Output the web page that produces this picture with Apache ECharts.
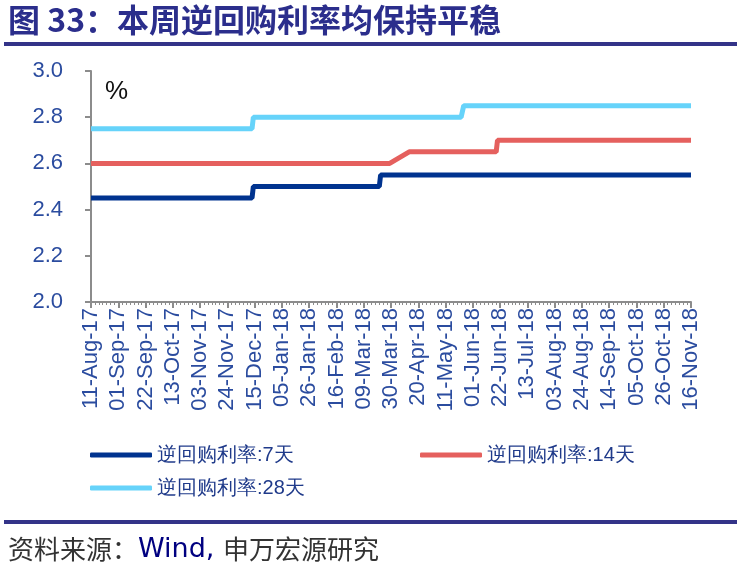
<!DOCTYPE html>
<html>
<head>
<meta charset="utf-8">
<script src="https://cdn.jsdelivr.net/npm/echarts@6/dist/echarts.min.js"></script>
<style>
  html, body { margin: 0; padding: 0; background: #fff; }
  #chart { width: 741px; height: 574px; }
</style>
</head>
<body>
<div id="chart"></div>
<script>
// x轴刻度标签 (每3周)
var startDate = '2017-08-11';
var tickLabels = ['11-Aug-17', '01-Sep-17', '22-Sep-17', '13-Oct-17', '03-Nov-17', '24-Nov-17',
    '15-Dec-17', '05-Jan-18', '26-Jan-18', '16-Feb-18', '09-Mar-18', '30-Mar-18', '20-Apr-18',
    '11-May-18', '01-Jun-18', '22-Jun-18', '13-Jul-18', '03-Aug-18', '24-Aug-18', '14-Sep-18',
    '05-Oct-18', '26-Oct-18', '16-Nov-18'];
var yLabels = ['2.0', '2.2', '2.4', '2.6', '2.8', '3.0'];

var seriesNames = ['逆回购利率:7天', '逆回购利率:14天', '逆回购利率:28天'];

// 逆回购利率:7天
var rate7Dates = ['2017-08-11', '2017-12-13', '2017-12-14', '2018-03-21', '2018-03-22', '2018-11-16'];
var rate7Values = [2.45, 2.45, 2.50, 2.50, 2.55, 2.55];
// 逆回购利率:14天
var rate14Dates = ['2017-08-11', '2018-03-29', '2018-04-13', '2018-06-19', '2018-06-20', '2018-11-16'];
var rate14Values = [2.60, 2.60, 2.65, 2.65, 2.70, 2.70];
// 逆回购利率:28天
var rate28Dates = ['2017-08-11', '2017-12-13', '2017-12-14', '2018-05-23', '2018-05-25', '2018-11-16'];
var rate28Values = [2.75, 2.75, 2.80, 2.80, 2.85, 2.85];

function dayOffset(s) {
    return (Date.parse(s) - Date.parse(startDate)) / 86400000;
}
function toPoints(dates, values) {
    return dates.map(function (d, i) { return [dayOffset(d), values[i]]; });
}

var axisGray = '#8c8c8c';
var labelBlue = '#2b4c9f';
var colors = ['#00338f', '#e5605e', '#66d3fa'];

var myChart = echarts.init(document.getElementById('chart'));
var option = {
    animation: false,
    backgroundColor: '#fff',
    color: colors,
    grid: { left: 91, right: 50, top: 71, bottom: 272 },
    xAxis: {
        type: 'value',
        min: 0,
        max: (tickLabels.length - 1) * 21,
        interval: 21,
        axisLine: { show: true, lineStyle: { color: axisGray, width: 2 } },
        axisTick: { show: true, length: 6, lineStyle: { color: axisGray, width: 2 } },
        minorTick: { show: true, splitNumber: 7, length: 3, lineStyle: { color: axisGray, width: 1 } },
        splitLine: { show: false },
        axisLabel: {
            rotate: 90,
            margin: 6,
            fontFamily: 'Liberation Sans',
            fontSize: 22,
            color: labelBlue,
            formatter: function (v) { return tickLabels[Math.round(v / 21)] || ''; }
        }
    },
    yAxis: {
        type: 'value',
        min: 2,
        max: 3,
        interval: 0.2,
        axisLine: { show: true, lineStyle: { color: axisGray, width: 2 } },
        axisTick: { show: true, length: 6, lineStyle: { color: axisGray, width: 2 } },
        splitLine: { show: false },
        axisLabel: {
            margin: 28,
            fontFamily: 'Liberation Sans',
            fontSize: 22,
            color: labelBlue,
            formatter: function (v) { return yLabels[Math.round((v - 2) / 0.2)]; }
        }
    },
    legend: [{
        data: [seriesNames[0], seriesNames[2]],
        orient: 'vertical',
        left: 90,
        top: 445,
        padding: 0,
        icon: 'roundRect',
        itemWidth: 62,
        itemHeight: 5,
        itemGap: 13,
        textStyle: { fontFamily: 'Liberation Sans', fontSize: 20, color: '#1f3a8a' }
    }, {
        data: [seriesNames[1]],
        orient: 'vertical',
        left: 420,
        top: 445,
        padding: 0,
        icon: 'roundRect',
        itemWidth: 62,
        itemHeight: 5,
        textStyle: { fontFamily: 'Liberation Sans', fontSize: 20, color: '#1f3a8a' }
    }],
    series: [{
        name: seriesNames[0],
        type: 'line',
        symbol: 'none',
        data: toPoints(rate7Dates, rate7Values),
        lineStyle: { width: 5, color: colors[0] }
    }, {
        name: seriesNames[1],
        type: 'line',
        symbol: 'none',
        data: toPoints(rate14Dates, rate14Values),
        lineStyle: { width: 5, color: colors[1] }
    }, {
        name: seriesNames[2],
        type: 'line',
        symbol: 'none',
        data: toPoints(rate28Dates, rate28Values),
        lineStyle: { width: 5, color: colors[2] }
    }],
    graphic: [{
        type: 'text',
        left: 8,
        top: 4,
        style: {
            text: '图 33：本周逆回购利率均保持平稳',
            fontFamily: 'Noto Sans CJK SC',
            fontWeight: 'bold',
            fontSize: 32,
            fill: '#2b2e8c'
        }
    }, {
        type: 'rect',
        shape: { x: 4, y: 42, width: 733, height: 4 },
        style: { fill: '#333388' }
    }, {
        type: 'text',
        left: 105,
        top: 79,
        style: { text: '%', fontFamily: 'Liberation Sans', fontSize: 26, fill: '#111' }
    }, {
        type: 'rect',
        shape: { x: 4, y: 520, width: 733, height: 4 },
        style: { fill: '#333388' }
    }, {
        type: 'text',
        left: 8,
        top: 536,
        style: {
            text: '{a|资料来源：}{b|Wind, }{a|申万宏源研究}',
            rich: {
                a: { fontFamily: 'Noto Sans CJK SC', fontSize: 26, fill: '#333', color: '#333' },
                b: { fontFamily: 'DejaVu Sans', fontSize: 27, fill: '#000080', color: '#000080' }
            }
        }
    }]
};
myChart.setOption(option);
</script>
</body>
</html>
